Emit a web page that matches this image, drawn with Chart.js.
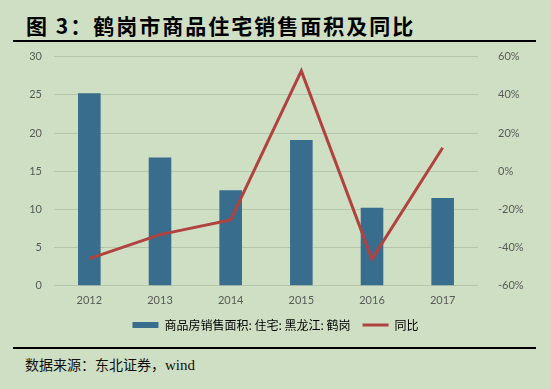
<!DOCTYPE html>
<html>
<head>
<meta charset="utf-8">
<script src="https://cdn.jsdelivr.net/npm/chart.js@4"></script>
<style>
    body { margin: 0; background: #cfdfc4; width: 551px; height: 389px; position: relative; overflow: hidden; }
    #title { position: absolute; left: 26px; top: 10px; font: bold 21px "Noto Sans CJK SC"; letter-spacing: 2px; color: #000; }
    .rule { position: absolute; left: 13px; width: 523px; height: 2px; background: #000; }
    #source { position: absolute; left: 25px; top: 354px; font: 14px "Noto Sans CJK SC"; color: #111; }
    #source span { font-family: "Liberation Serif"; font-size: 15px; }
    #wrap { position: absolute; left: 0; top: 38px; width: 551px; height: 303px; }
</style>
</head>
<body>
<div id="title">图 3：鹤岗市商品住宅销售面积及同比</div>
<div class="rule" style="top: 40px;"></div>
<div id="wrap"><canvas id="chart"></canvas></div>
<div class="rule" style="top: 347px;"></div>
<div id="source">数据来源：东北证券，<span>wind</span></div>
<script>
// data
const years = ["2012", "2013", "2014", "2015", "2016", "2017"];
const area = [25.2, 16.8, 12.5, 19.1, 10.2, 11.5];
const yoy = [-45.8, -33.2, -25.5, 52.5, -46, 12.3];

const tick_font = { family: "Lato", size: 11 };

new Chart(document.querySelector("#chart"), {
    data: {
        labels: years,
        datasets: [{
            type: "bar",
            label: "商品房销售面积: 住宅: 黑龙江: 鹤岗",
            data: area,
            backgroundColor: "#386d8e",
            categoryPercentage: 1,
            barPercentage: 0.32,
            yAxisID: "y",
            order: 2
        }, {
            type: "line",
            label: "同比",
            data: yoy,
            borderColor: "#b0423f",
            backgroundColor: "#b0423f",
            borderWidth: 3,
            pointRadius: 0,
            tension: 0,
            yAxisID: "y2",
            order: 1
        }]
    },
    options: {
        responsive: true,
        maintainAspectRatio: false,
        animation: false,
        layout: { padding: { top: 4, left: 0, right: 0 } },
        plugins: {
            tooltip: { enabled: false },
            legend: {
                position: "bottom",
                labels: {
                    font: { family: "Noto Sans CJK SC", size: 12 },
                    color: "#333",
                    usePointStyle: true,
                    pointStyleWidth: 26,
                    boxHeight: 6,
                    padding: 12,
                    generateLabels: (chart) => chart.data.datasets.map((d, i) => ({
                        text: d.label,
                        fillStyle: d.type === "bar" ? d.backgroundColor : d.borderColor,
                        strokeStyle: d.type === "bar" ? d.backgroundColor : d.borderColor,
                        lineWidth: d.type === "bar" ? 0 : 3,
                        pointStyle: d.type === "bar" ? "rect" : "line",
                        datasetIndex: i
                    }))
                }
            }
        },
        scales: {
            x: {
                grid: { display: false },
                border: { display: false },
                ticks: { font: tick_font, color: "#595959", padding: 0 }
            },
            y: {
                position: "left",
                min: 0,
                max: 30,
                ticks: { stepSize: 5, font: tick_font, color: "#595959", padding: 12 },
                grid: { color: "#b6c6ab", drawTicks: false },
                border: { display: false },
                afterFit: (scale) => { scale.width = 54; }
            },
            y2: {
                position: "right",
                min: -60,
                max: 60,
                ticks: { stepSize: 20, font: tick_font, color: "#595959", padding: 12, callback: (v) => v + "%" },
                grid: { display: false },
                border: { display: false },
                afterFit: (scale) => { scale.width = 73; }
            }
        }
    }
});
</script>
</body>
</html>
